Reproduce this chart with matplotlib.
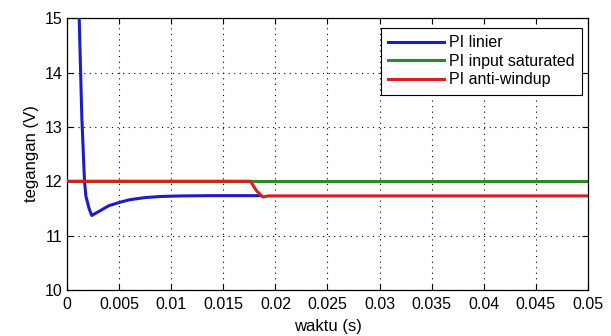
import matplotlib
matplotlib.use("Agg")
import matplotlib.pyplot as plt

plt.rcParams["font.family"] = ["Liberation Sans", "DejaVu Sans"]

# PI linier response
t_linier = [0.0, 0.0009, 0.00115, 0.0014, 0.00166, 0.0018, 0.0021, 0.00235, 0.003,
            0.004, 0.005, 0.006, 0.0075, 0.009, 0.011, 0.014, 0.0185]
v_linier = [22.0, 16.5, 15.0, 13.2, 12.0, 11.72, 11.5, 11.37, 11.44,
            11.55, 11.61, 11.66, 11.70, 11.72, 11.73, 11.735, 11.735]

# PI input saturated
t_sat = [0.0, 0.05]
v_sat = [12.0, 12.0]

# PI anti-windup
t_aw = [0.0, 0.0176, 0.0182, 0.0188, 0.0193, 0.05]
v_aw = [12.0, 12.0, 11.82, 11.71, 11.73, 11.73]

labels = ["PI linier", "PI input saturated", "PI anti-windup"]
c_lin, c_sat, c_aw = "#1c1cc8", "#2a8a2a", "#d81e1e"

fig = plt.figure(figsize=(6.11, 3.36), dpi=100)
ax = fig.add_axes([0.110, 0.137, 0.852, 0.809])

ax.plot(t_sat, v_sat, color=c_sat, lw=2.2, zorder=2)
ax.plot(t_linier, v_linier, color=c_lin, lw=2.2, zorder=3)
ax.plot(t_aw, v_aw, color=c_aw, lw=2.2, zorder=4)

# legend in the original order
h_lin, = ax.plot([], [], color=c_lin, lw=2.2)
h_sat, = ax.plot([], [], color=c_sat, lw=2.2)
h_aw, = ax.plot([], [], color=c_aw, lw=2.2)
leg = ax.legend([h_lin, h_sat, h_aw], labels,
                loc="upper right", bbox_to_anchor=(0.9885, 0.963), borderaxespad=0,
                fontsize=11.5, fancybox=False, framealpha=1, edgecolor="black",
                handlelength=3.5, handletextpad=0.3, borderpad=0.45, labelspacing=0.22)
leg.get_frame().set_linewidth(0.8)

ax.set_xlim(0, 0.05)
ax.set_ylim(10, 15)
ax.set_xticks([0, 0.005, 0.01, 0.015, 0.02, 0.025, 0.03, 0.035, 0.04, 0.045, 0.05])
ax.set_xticklabels(["0", "0.005", "0.01", "0.015", "0.02", "0.025", "0.03", "0.035",
                    "0.04", "0.045", "0.05"])
ax.set_yticks([10, 11, 12, 13, 14, 15])
ax.tick_params(direction="in", top=True, right=True, labelsize=11.5, length=4)
ax.tick_params(axis="x", pad=5)
ax.grid(True, color="black", linestyle=(0, (1, 4)), linewidth=0.8)
for s in ax.spines.values():
    s.set_linewidth(0.9)

ax.set_xlabel("waktu (s)", fontsize=12, labelpad=5)
ax.set_ylabel("tegangan (V)", fontsize=12)

fig.savefig("out.png", dpi=100)
